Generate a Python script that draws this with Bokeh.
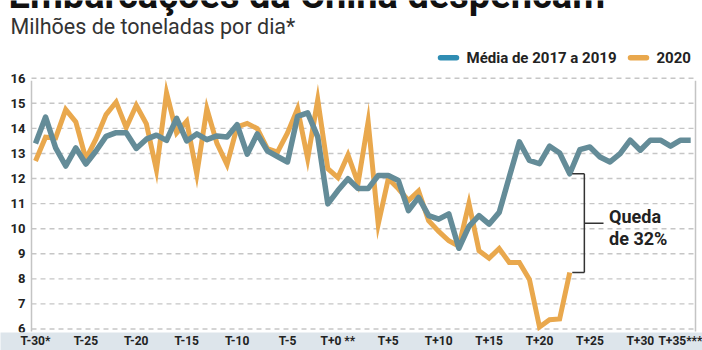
from bokeh.plotting import figure
from bokeh.models import FixedTicker, Range1d, ColumnDataSource
from bokeh.core.properties import value
from bokeh.embed import file_html
from bokeh.resources import INLINE

# ---------------- data ----------------
days = list(range(-30, 36))  # T-30 ... T+35
media_2017_2019 = [
    13.40, 14.45, 13.22, 12.50, 13.22, 12.58, 13.10, 13.68, 13.83, 13.83,
    13.20, 13.57, 13.73, 13.52, 14.40, 13.50, 13.78, 13.55, 13.70, 13.66,
    14.15, 12.97, 13.78, 13.10, 12.88, 12.66, 14.48, 14.62, 13.66, 10.99,
    11.52, 11.99, 11.60, 11.60, 12.12, 12.12, 11.92, 10.72, 11.25, 10.52,
    10.38, 10.59, 9.22, 10.09, 10.52, 10.18, 10.65, 12.06, 13.46, 12.72,
    12.59, 13.29, 13.02, 12.19, 13.15, 13.26, 12.86, 12.66, 12.99, 13.53,
    13.13, 13.53, 13.53, 13.29, 13.53, 13.53,
]
ano_2020 = [
    12.70, 13.65, 13.62, 14.75, 14.26, 12.78, 13.58, 14.55, 15.05, 14.03,
    14.92, 14.18, 12.34, 15.42, 13.82, 14.28, 12.18, 14.78, 13.40, 12.56,
    14.06, 14.20, 13.99, 13.19, 13.05, 13.82, 14.78, 12.79, 15.14, 12.39,
    12.04, 12.94, 11.82, 14.27, 10.18, 11.99, 11.59, 11.12, 11.50, 10.32,
    9.89, 9.52, 9.30, 11.01, 9.12, 8.82, 9.21, 8.65, 8.65, 7.98,
    6.08, 6.37, 6.40, 8.25,
]
y_ticks = [6, 7, 8, 9, 10, 11, 12, 13, 14, 15, 16]
x_ticks = [-30, -25, -20, -15, -10, -5, 0, 5, 10, 15, 20, 25, 30, 35]
x_tick_labels = ["T-30*", "T-25", "T-20", "T-15", "T-10", "T-5", "T+0 **",
                 "T+5", "T+10", "T+15", "T+20", "T+25", "T+30", "T+35***"]
title_text = "Embarcações da China despencam"
subtitle_text = "Milhões de toneladas por dia*"
legend_names = ["Média de 2017 a 2019", "2020"]
bracket_text = ["Queda", "de 32%"]

# ---------------- styling / layout ----------------
W, H = 702, 350
FRAME_BOTTOM = 331      # x axis (band) takes the rest
PX_PER_X = 10.08
PX_PER_Y = 25.0
X0_PX = 35.0            # pixel of the first day
Y16_PX = 77.5           # pixel of value 16

x_start = days[0] - X0_PX / PX_PER_X
x_end = x_start + W / PX_PER_X
y_end = 16 + Y16_PX / PX_PER_Y
y_start = y_end - FRAME_BOTTOM / PX_PER_Y


def px2x(px):
    return x_start + px / PX_PER_X


def py2y(py):
    return y_end - py / PX_PER_Y


def mid_of(baseline_px, size_px):
    """vertical middle (data units) of a text whose baseline sits at baseline_px"""
    return py2y(baseline_px - 0.35 * size_px)


BLUE = "#648c98"
ORANGE = "#e9a84d"
BLUE_SWATCH = "#2f8db3"
GRID = "#c6c6c6"
TEXT = "#222222"
FONT = "Roboto"

p = figure(width=W, height=H, output_backend="svg", toolbar_location=None,
           x_range=Range1d(x_start, x_end), y_range=Range1d(y_start, y_end),
           y_axis_location=None,
           min_border_left=0, min_border_right=0, min_border_top=0,
           min_border_bottom=14)
p.outline_line_color = None
p.background_fill_color = "white"
p.border_fill_color = "white"
p.xgrid.visible = False
p.ygrid.visible = False

# x axis with its shaded band
xa = p.xaxis[0]
xa.ticker = FixedTicker(ticks=x_ticks)
xa.major_label_overrides = {t: l for t, l in zip(x_ticks, x_tick_labels)}
xa.axis_line_color = None
xa.major_tick_out = 0
xa.major_tick_in = 0
xa.minor_tick_out = 0
xa.minor_tick_in = 0
xa.major_label_standoff = 1
xa.major_label_text_font = FONT
xa.major_label_text_font_style = "bold"
xa.major_label_text_font_size = "12px"
xa.major_label_text_color = TEXT
xa.background_fill_color = "#dde5eb"

# dashed horizontal grid lines between the two side rules
gx0, gx1 = px2x(31), px2x(695)
p.segment(x0=[gx0] * len(y_ticks), y0=y_ticks, x1=[gx1] * len(y_ticks),
          y1=y_ticks, line_color=GRID, line_width=1.4, line_dash="5 4")

# left / right vertical rules
p.segment(x0=[gx0, gx1], y0=[5.9, 5.9], x1=[gx0, gx1], y1=[15.9, 15.9],
          line_color="#c4c4c4", line_width=1.5)

# y tick labels
p.text(x=[px2x(25)] * len(y_ticks), y=y_ticks, text=[str(t) for t in y_ticks],
       text_font=value(FONT), text_font_style="bold", text_font_size="13px",
       text_color=TEXT, text_align="right", text_baseline="middle")

# series
src_b = ColumnDataSource(dict(x=days, y=media_2017_2019))
src_o = ColumnDataSource(dict(x=days[:len(ano_2020)], y=ano_2020))
p.line("x", "y", source=src_o, line_color=ORANGE, line_width=5, line_join="miter")
p.line("x", "y", source=src_b, line_color=BLUE, line_width=5.5, line_join="round")

# bracket: from the 2017-2019 average to 2020 at the last 2020 day
last = len(ano_2020) - 1
bx = days[last]
top_v = media_2017_2019[last]
bot_v = ano_2020[last]
mid_v = (top_v + bot_v) / 2
vx = bx + 1.45
p.segment(x0=[bx + 0.25, bx + 0.25, vx, vx], y0=[top_v, bot_v, top_v, mid_v],
          x1=[vx, vx, vx, vx + 1.9], y1=[top_v, bot_v, bot_v, mid_v],
          line_color="#333333", line_width=1.5)
p.text(x=[vx + 2.45, vx + 2.45], y=[mid_of(222, 18), mid_of(244, 18)],
       text=bracket_text, text_font=value(FONT), text_font_style="bold",
       text_font_size="18px", text_color=TEXT, text_baseline="middle")

# legend (custom)
ly = py2y(57)
p.segment(x0=[px2x(440), px2x(630)], y0=[ly, ly], x1=[px2x(456), px2x(646)],
          y1=[ly, ly], line_color=[BLUE_SWATCH, ORANGE], line_width=5.5,
          line_cap="round")
p.text(x=[px2x(466), px2x(656)], y=[ly, ly], text=legend_names,
       text_font=value(FONT), text_font_style="bold", text_font_size="15px",
       text_color=TEXT, text_baseline="middle")

# title (cut at the top, as in the source) & subtitle
p.text(x=[px2x(8)], y=[mid_of(8, 38)], text=[title_text], text_font=value(FONT),
       text_font_style="bold", text_font_size="38px", text_color="#111111",
       text_baseline="middle")
p.text(x=[px2x(10)], y=[mid_of(33, 21.5)], text=[subtitle_text],
       text_font=value(FONT), text_font_size="21.5px", text_color="#333333",
       text_baseline="middle")

open("out.html", "w").write(file_html(p, INLINE))
